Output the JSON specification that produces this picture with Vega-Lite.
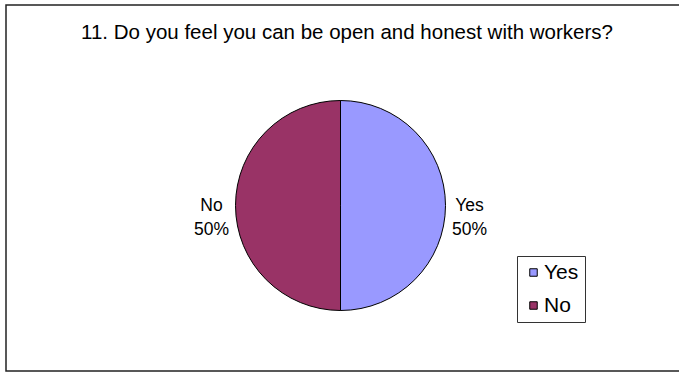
{
  "$schema": "https://vega.github.io/schema/vega-lite/v6.json",
  "autosize": "none",
  "width": 760,
  "height": 366,
  "padding": {"left": 6, "top": 5, "right": -87, "bottom": 1},
  "background": "white",
  "config": {
    "view": {"stroke": "#222222", "strokeWidth": 1.5},
    "font": "Liberation Sans"
  },
  "title": {
    "text": "11. Do you feel you can be open and honest with workers?",
    "font": "Liberation Sans",
    "fontSize": 20.5,
    "fontWeight": "normal",
    "color": "black",
    "anchor": "middle",
    "baseline": "alphabetic",
    "offset": -57,
    "dx": -39
  },
  "data": {
    "values": [
      {"answer": "Yes", "count": 50, "label": "Yes\n50%"},
      {"answer": "No", "count": 50, "label": "No\n50%"}
    ]
  },
  "layer": [
    {
      "mark": {"type": "point", "opacity": 0},
      "encoding": {
        "x": {"field": "count", "type": "quantitative", "axis": null},
        "y": {"field": "count", "type": "quantitative", "axis": null}
      }
    },
    {
      "mark": {"type": "arc", "outerRadius": 105, "stroke": "black", "strokeWidth": 1, "xOffset": -45.5, "yOffset": 17.5},
      "encoding": {
        "theta": {"field": "count", "type": "quantitative", "stack": true},
        "order": {"field": "answer", "sort": "descending"},
        "color": {
          "field": "answer",
          "type": "nominal",
          "scale": {"domain": ["Yes", "No"], "range": ["#9999FF", "#993366"]},
          "legend": {
            "title": null,
            "orient": "none",
            "legendX": 511,
            "legendY": 251,
            "strokeColor": "#333333",
            "fillColor": "white",
            "padding": 6,
            "symbolType": "square",
            "symbolSize": 56,
            "symbolStrokeColor": "black",
            "symbolStrokeWidth": 1,
            "labelFont": "Liberation Sans",
            "labelFontSize": 21,
            "labelColor": "black",
            "labelOffset": 0,
            "rowPadding": 11
          }
        }
      }
    },
    {
      "mark": {
        "type": "text",
        "radius": 129,
        "xOffset": -45.5,
        "yOffset": 17.5,
        "font": "Liberation Sans",
        "fontSize": 17.5,
        "lineBreak": "\n",
        "lineHeight": 24,
        "align": "center",
        "baseline": "middle",
        "color": "black"
      },
      "encoding": {
        "theta": {"field": "count", "type": "quantitative", "stack": true},
        "order": {"field": "answer", "sort": "descending"},
        "text": {"field": "label"}
      }
    }
  ]
}
